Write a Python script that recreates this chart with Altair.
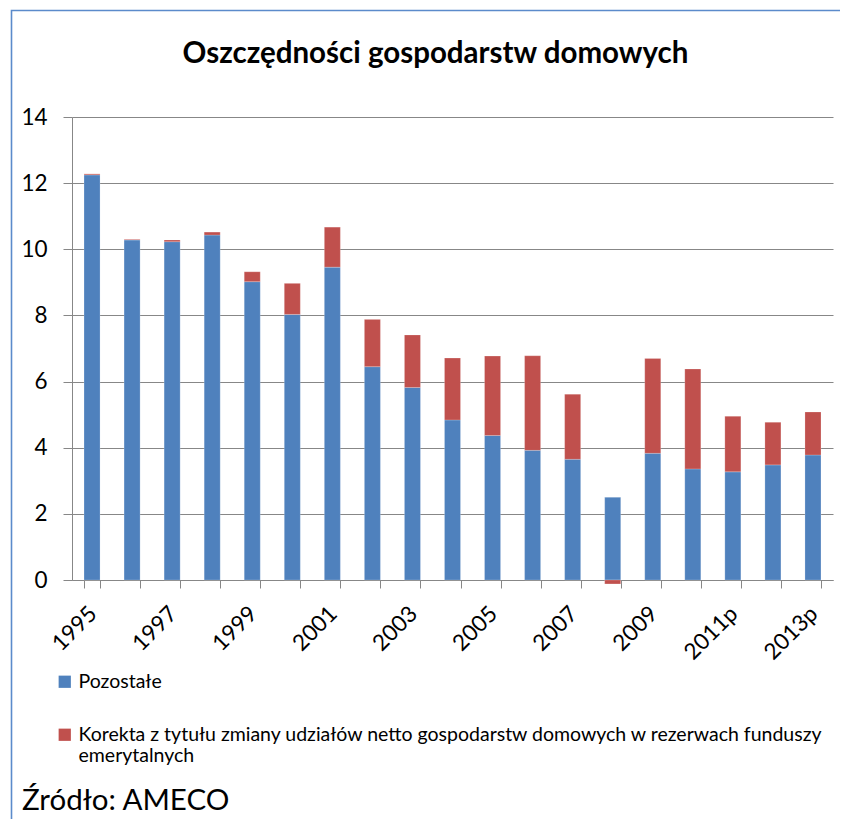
import altair as alt
import pandas as pd

years = ["1995", "1996", "1997", "1998", "1999", "2000", "2001", "2002", "2003",
         "2004", "2005", "2006", "2007", "2008", "2009", "2010", "2011p", "2012p", "2013p"]
pozostale = [12.25, 10.28, 10.23, 10.43, 9.02, 8.03, 9.46, 6.45, 5.82,
             4.84, 4.37, 3.92, 3.65, 2.50, 3.83, 3.36, 3.27, 3.48, 3.78]
korekta = [0.03, 0.02, 0.05, 0.09, 0.30, 0.94, 1.21, 1.43, 1.59,
           1.87, 2.40, 2.86, 1.97, -0.12, 2.87, 3.02, 1.68, 1.29, 1.30]
series = ["Pozostałe",
          "Korekta z tytułu zmiany udziałów netto gospodarstw domowych w rezerwach funduszy emerytalnych"]
colors = ["#4F81BD", "#C0504D"]
shown_labels = ["1995", "1997", "1999", "2001", "2003", "2005", "2007", "2009", "2011p", "2013p"]
title_text = "Oszczędności gospodarstw domowych"
source_text = "Źródło: AMECO"

rows = []
for i, y in enumerate(years):
    rows.append({"rok": y, "seria": series[0], "wartosc": pozostale[i], "k": 0})
    rows.append({"rok": y, "seria": series[1], "wartosc": korekta[i], "k": 1})
df = pd.DataFrame(rows)

FONT = "Lato"
GRID = "#878787"

label_list = "[" + ",".join("'" + s + "'" for s in shown_labels) + "]"

bars = alt.Chart(df).mark_bar(stroke="white", strokeOpacity=0.35, strokeWidth=0.6).encode(
    x=alt.X("rok:N", sort=years, title=None,
            scale=alt.Scale(paddingInner=0.6, paddingOuter=0.3),
            axis=alt.Axis(labelAngle=-45, labelAlign="right", labelBaseline="top",
                          labelFontSize=22.5, labelFont=FONT, labelColor="black",
                          labelExpr="indexof(" + label_list + ", datum.value) >= 0 ? datum.label : ''",
                          tickBand="extent", tickSize=8, tickColor=GRID, domainColor=GRID,
                          labelPadding=14, labelOffset=-7, labelOverlap=False, labelBound=False)),
    y=alt.Y("wartosc:Q", stack="zero", title=None,
            scale=alt.Scale(domain=[0, 14], nice=False),
            axis=alt.Axis(values=[0, 2, 4, 6, 8, 10, 12, 14], tickSize=9, tickColor=GRID,
                          domainColor=GRID, gridColor=GRID, gridWidth=1.2,
                          labelFontSize=22.5, labelFont=FONT, labelColor="black", labelPadding=16)),
    color=alt.Color("seria:N", sort=series,
                    scale=alt.Scale(domain=series, range=colors),
                    legend=alt.Legend(orient="none", legendX=-17, legendY=555, title=None,
                                      direction="vertical", symbolType="square", symbolSize=150,
                                      symbolStrokeWidth=0, labelFont=FONT, labelFontSize=19.5,
                                      labelColor="black", labelLimit=800, rowPadding=32,
                                      labelOffset=4, padding=0,
                                      labelExpr="split(replace(datum.label, ' emerytalnych', '|emerytalnych'), '|')")),
    order=alt.Order("k:Q"),
)

texts = pd.DataFrame({"t": [title_text], "s": [source_text]})
frame = alt.Chart(texts).mark_rect(fill=None, stroke="#5B8BCB", strokeWidth=1.6).encode(
    x=alt.value(-60.5), x2=alt.value(900), y=alt.value(-106.5), y2=alt.value(900))
title = alt.Chart(texts).mark_text(align="center", baseline="alphabetic", font=FONT,
                                   fontSize=29.5, fontWeight="bold", color="black").encode(
    x=alt.value(363.5), y=alt.value(-54), text="t:N")
source = alt.Chart(texts).mark_text(align="left", baseline="alphabetic", font=FONT,
                                    fontSize=29.5, color="black").encode(
    x=alt.value(-50), y=alt.value(693), text="s:N")

chart = alt.layer(frame, bars, title, source).properties(
    width=761, height=463,
    padding={"left": 64, "top": 109, "right": 7, "bottom": 239},
    autosize=alt.AutoSizeParams(type="none"),
).configure_view(stroke=None).configure_axis(grid=True).configure_axisX(grid=False)

chart.save("out.html", embed_options={"renderer": "svg", "actions": False})
